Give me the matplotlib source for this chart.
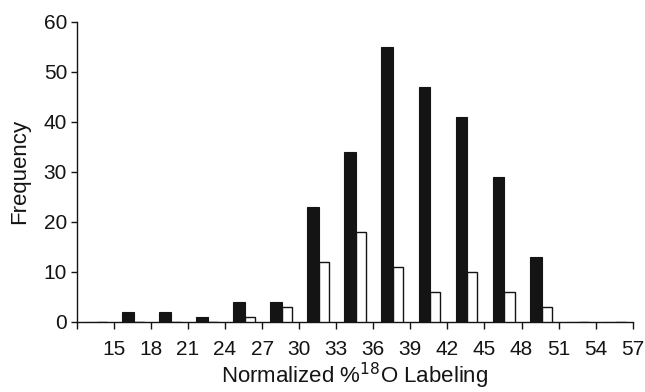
import numpy as np
import matplotlib
matplotlib.use("Agg")
import matplotlib.pyplot as plt

plt.rcParams["font.family"] = ["Liberation Sans", "DejaVu Sans"]

# bin edges shown on the x axis (first edge has no label)
edge_labels = ["", "15", "18", "21", "24", "27", "30", "33", "36", "39",
               "42", "45", "48", "51", "54", "57"]
# frequencies per bin (bin i lies between edge i and edge i+1)
black_counts = [0, 2, 2, 1, 4, 4, 23, 34, 55, 47, 41, 29, 13, 0, 0]
white_counts = [0, 0, 0, 0, 1, 3, 12, 18, 11, 6, 10, 6, 3, 0, 0]

fig = plt.figure(figsize=(6.45, 3.92), dpi=100, facecolor="white")
ax = fig.add_axes([0.119, 0.179, 0.862, 0.765])

bins = np.arange(len(black_counts))
bw = 0.31
ax.bar(bins + 0.22, black_counts, width=bw + 0.01, align="edge",
       color="#141414", edgecolor="#141414", linewidth=0.8, zorder=3)
ax.bar(bins + 0.22 + bw + 0.01, white_counts, width=bw - 0.04, align="edge",
       color="white", edgecolor="#141414", linewidth=1.0, zorder=3)

ax.set_xlim(0, len(edge_labels) - 1)
ax.set_ylim(0, 60)
ax.set_xticks(np.arange(len(edge_labels)))
ax.set_xticklabels(edge_labels)
ax.set_yticks(np.arange(0, 61, 10))

for s in ["top", "right"]:
    ax.spines[s].set_visible(False)
for s in ["left", "bottom"]:
    ax.spines[s].set_linewidth(1.0)
    ax.spines[s].set_color("#141414")

ax.tick_params(axis="x", direction="out", length=5, width=1.0,
               labelsize=15, pad=8, colors="#141414")
ax.tick_params(axis="y", direction="out", length=4, width=1.0,
               labelsize=15, pad=3, colors="#141414")

ax.set_xlabel("Normalized %$^{18}$O Labeling", fontsize=16, labelpad=1.5,
              color="#141414")
ax.set_ylabel("Frequency", fontsize=16, color="#141414")
ax.yaxis.set_label_coords(-0.083, 0.5)

plt.savefig("out.png", dpi=100, facecolor="white")
